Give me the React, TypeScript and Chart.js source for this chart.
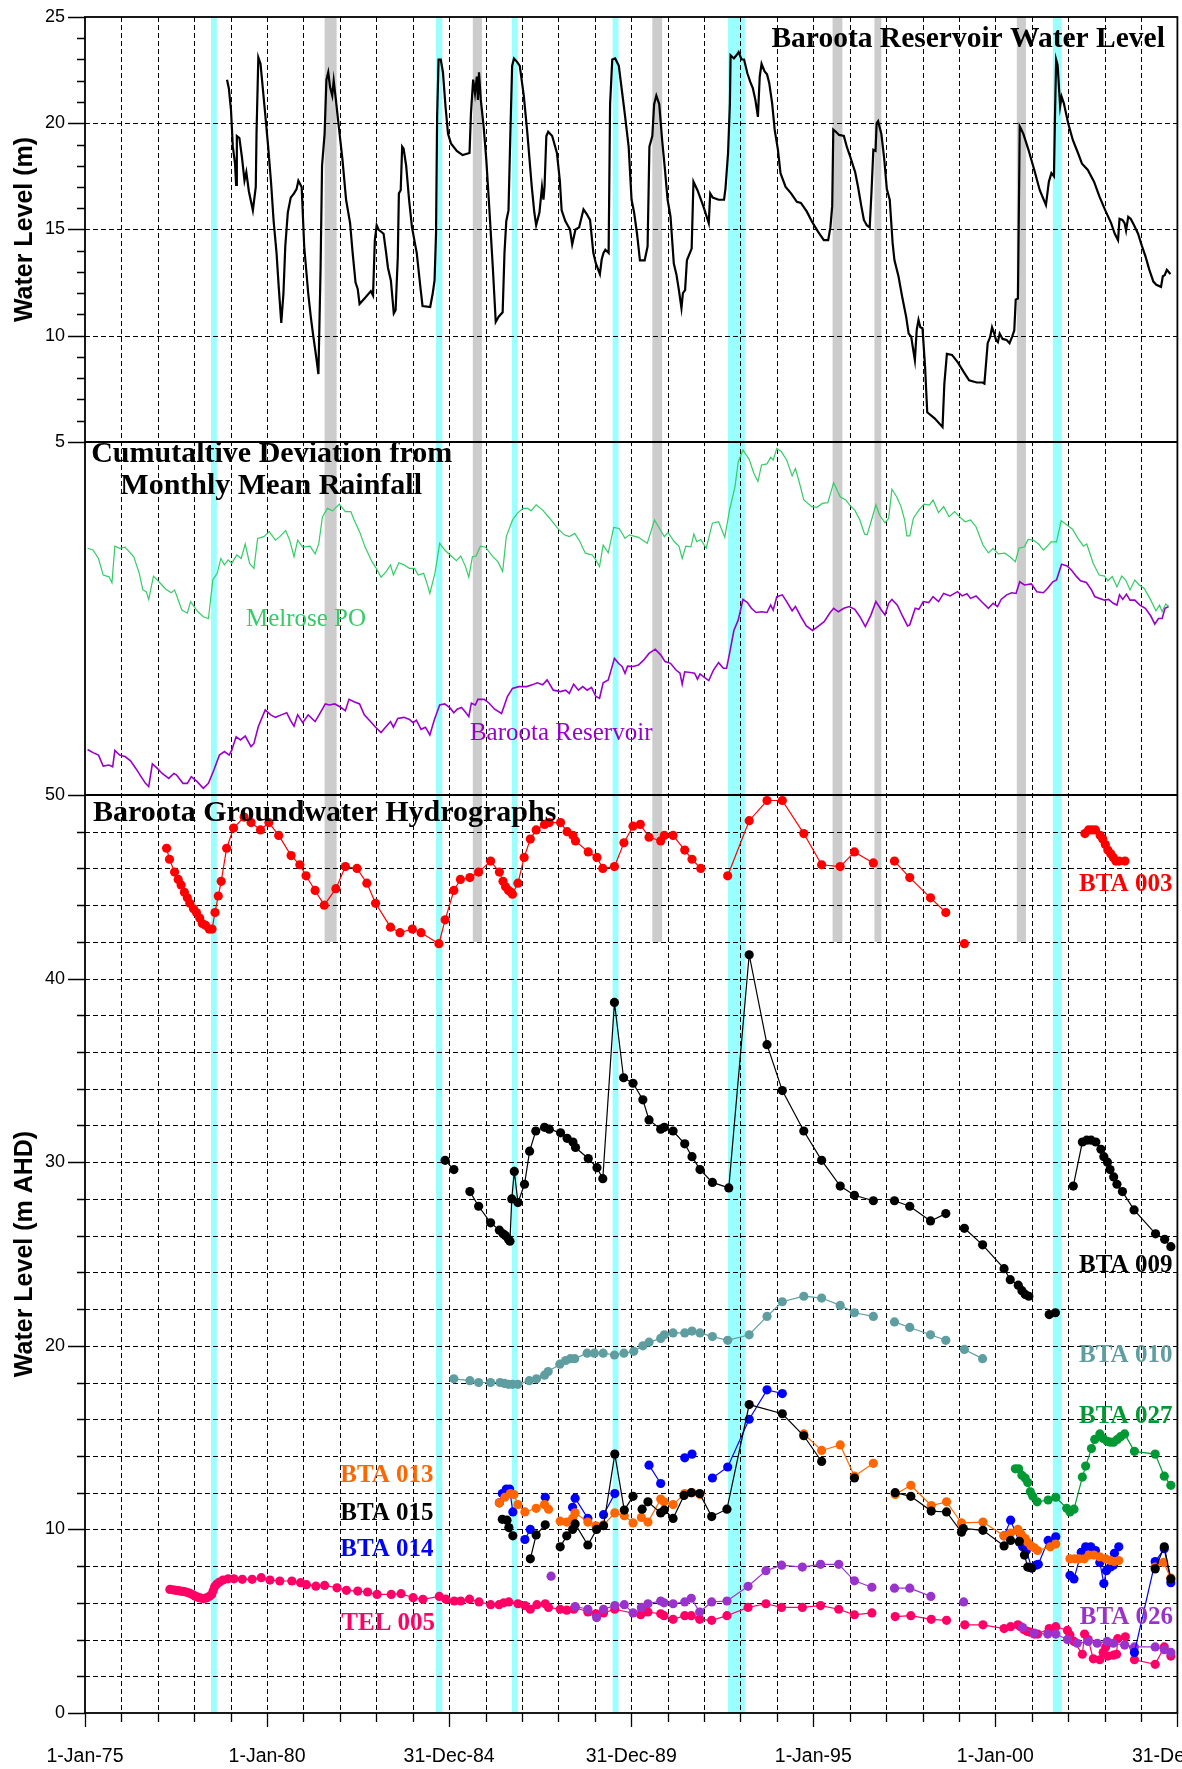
import React, { useEffect, useRef } from 'react';
import { Chart, registerables } from 'chart.js';

Chart.register(...registerables);

type P = [number, number | null];

// ---------- Data ----------
const X_TICK_YEARS = [1975, 1980, 1985, 1990, 1995, 2000, 2005];
const X_TICK_LABELS = ['1-Jan-75', '1-Jan-80', '31-Dec-84', '31-Dec-89', '1-Jan-95', '1-Jan-00', '31-Dec-04'];
const TOP_TICK_LABELS = [5, 10, 15, 20, 25];
const BOT_TICK_LABELS = [0, 10, 20, 30, 40, 50];

const CYAN_BANDS: [number, number][] = [
  [1978.46, 1978.62], [1984.64, 1984.81], [1986.72, 1986.88],
  [1989.49, 1989.65], [1992.66, 1993.12], [2001.58, 2001.82],
];
const GREY_BANDS: [number, number][] = [
  [1981.58, 1981.91], [1985.65, 1985.90], [1990.58, 1990.85],
  [1995.53, 1995.80], [1996.68, 1996.87], [2000.59, 2000.84],
];
const GREY_BAND_FLOOR = 42;

const RESERVOIR_LEVEL: P[] = [
  [1978.90,22.05],[1978.95,21.65],[1979.01,20.6],[1979.06,18.9],[1979.12,18.1],[1979.15,17.1],[1979.17,19.4],[1979.24,19.3],[1979.31,18.4],[1979.38,17.3],[1979.43,17.7],[1979.50,16.8],[1979.61,15.9],[1979.69,17.0],[1979.71,19.5],[1979.76,23.1],[1979.82,22.8],[1979.88,21.7],[1979.94,20.6],[1980.03,18.9],[1980.11,17.2],[1980.18,15.4],[1980.26,13.9],[1980.32,12.3],[1980.39,10.6],[1980.45,12.0],[1980.50,14.2],[1980.57,15.8],[1980.65,16.5],[1980.74,16.7],[1980.81,16.9],[1980.86,17.3],[1980.95,17.0],[1981.02,14.2],[1981.13,12.0],[1981.20,10.9],[1981.26,10.1],[1981.35,9.0],[1981.41,8.2],[1981.47,13.2],[1981.51,18.0],[1981.58,19.5],[1981.63,22.05],[1981.68,22.4],[1981.73,21.7],[1981.79,21.3],[1981.83,22.0],[1981.89,21.1],[1981.96,20.0],[1982.07,18.3],[1982.17,16.4],[1982.28,15.3],[1982.35,13.9],[1982.43,12.5],[1982.49,12.2],[1982.54,11.5],[1982.70,11.8],[1982.85,12.1],[1982.91,11.9],[1982.96,14.5],[1983.01,15.2],[1983.06,15.0],[1983.20,14.8],[1983.27,13.9],[1983.32,13.2],[1983.40,12.6],[1983.48,11.05],[1983.53,11.2],[1983.59,13.7],[1983.62,16.7],[1983.67,16.85],[1983.71,18.9],[1983.75,18.8],[1983.82,18.0],[1983.90,16.4],[1983.98,15.1],[1984.11,13.9],[1984.21,12.3],[1984.27,11.4],[1984.48,11.35],[1984.55,12.0],[1984.60,12.6],[1984.64,14.8],[1984.67,20.3],[1984.71,23.0],[1984.77,23.0],[1984.83,22.4],[1984.90,20.8],[1984.97,19.5],[1985.05,19.05],[1985.21,18.7],[1985.37,18.5],[1985.56,18.6],[1985.60,20.5],[1985.66,22.05],[1985.71,21.4],[1985.76,22.2],[1985.79,21.1],[1985.82,22.4],[1985.87,21.1],[1985.95,19.8],[1986.02,18.3],[1986.10,16.1],[1986.20,13.2],[1986.28,10.65],[1986.36,10.9],[1986.47,11.1],[1986.52,13.9],[1986.57,15.4],[1986.63,15.9],[1986.68,19.4],[1986.73,22.7],[1986.78,23.05],[1986.86,22.9],[1986.94,22.7],[1987.05,21.3],[1987.15,19.5],[1987.27,17.0],[1987.34,15.8],[1987.39,15.2],[1987.48,15.8],[1987.55,17.0],[1987.59,16.4],[1987.62,17.0],[1987.67,19.4],[1987.72,19.6],[1987.83,19.4],[1987.96,18.6],[1988.04,17.3],[1988.09,15.9],[1988.19,15.4],[1988.32,15.0],[1988.38,14.3],[1988.47,15.0],[1988.57,15.1],[1988.69,15.95],[1988.77,15.75],[1988.87,15.45],[1988.96,13.9],[1989.03,13.4],[1989.14,12.9],[1989.19,13.6],[1989.24,13.9],[1989.29,14.05],[1989.38,13.9],[1989.42,20.9],[1989.48,23.0],[1989.56,23.05],[1989.66,22.7],[1989.74,21.6],[1989.82,20.5],[1989.93,18.9],[1990.01,16.4],[1990.08,15.8],[1990.16,14.8],[1990.24,13.55],[1990.37,13.55],[1990.45,14.2],[1990.50,18.9],[1990.58,19.4],[1990.63,20.9],[1990.69,21.3],[1990.77,20.9],[1990.85,19.2],[1990.92,17.95],[1991.00,16.4],[1991.08,15.6],[1991.17,13.4],[1991.24,12.9],[1991.31,12.15],[1991.38,11.3],[1991.42,12.0],[1991.48,12.15],[1991.53,13.55],[1991.66,14.1],[1991.71,17.25],[1991.82,16.85],[1991.98,16.1],[1992.13,15.3],[1992.17,16.7],[1992.24,16.5],[1992.40,16.4],[1992.55,16.4],[1992.59,16.95],[1992.66,18.6],[1992.71,20.9],[1992.73,23.2],[1992.82,23.05],[1992.89,23.2],[1992.95,23.35],[1993.03,23.0],[1993.10,23.0],[1993.19,22.35],[1993.27,21.95],[1993.34,21.65],[1993.41,21.1],[1993.48,20.3],[1993.53,22.2],[1993.58,22.8],[1993.66,22.45],[1993.73,22.3],[1993.79,21.9],[1993.87,20.95],[1993.94,19.7],[1994.03,18.75],[1994.10,17.65],[1994.24,17.0],[1994.39,16.7],[1994.55,16.3],[1994.66,16.25],[1994.82,15.85],[1994.97,15.35],[1995.13,14.9],[1995.29,14.5],[1995.41,14.5],[1995.47,15.1],[1995.52,16.1],[1995.55,19.7],[1995.62,19.6],[1995.71,19.45],[1995.84,19.4],[1995.92,18.9],[1996.02,18.4],[1996.15,17.7],[1996.23,17.0],[1996.32,16.1],[1996.39,15.45],[1996.47,15.2],[1996.55,15.1],[1996.60,16.8],[1996.65,18.75],[1996.71,18.7],[1996.74,20.0],[1996.78,20.1],[1996.87,19.5],[1996.95,18.3],[1997.02,16.9],[1997.10,16.4],[1997.18,14.35],[1997.23,13.55],[1997.34,12.8],[1997.44,11.85],[1997.55,10.9],[1997.62,10.1],[1997.69,9.95],[1997.73,9.5],[1997.79,8.85],[1997.84,10.25],[1997.89,10.75],[1997.94,10.4],[1998.00,10.35],[1998.07,8.55],[1998.13,6.4],[1998.34,6.1],[1998.55,5.7],[1998.60,7.75],[1998.67,9.15],[1998.81,9.1],[1998.97,8.75],[1999.13,8.3],[1999.28,7.9],[1999.49,7.8],[1999.65,7.8],[1999.70,7.75],[1999.79,9.65],[1999.86,9.95],[1999.91,10.4],[1999.97,10.1],[2000.02,9.8],[2000.07,9.7],[2000.12,10.1],[2000.20,9.85],[2000.31,9.8],[2000.39,9.65],[2000.46,9.95],[2000.52,10.25],[2000.56,11.7],[2000.62,11.75],[2000.67,19.85],[2000.70,19.75],[2000.77,19.5],[2000.91,18.75],[2001.07,17.8],[2001.22,16.85],[2001.33,16.4],[2001.39,16.15],[2001.47,17.25],[2001.54,17.65],[2001.61,17.5],[2001.64,20.5],[2001.67,23.0],[2001.71,22.75],[2001.78,20.8],[2001.82,21.25],[2001.88,20.95],[2002.00,20.0],[2002.13,19.2],[2002.27,18.6],[2002.38,18.1],[2002.54,17.8],[2002.71,17.25],[2002.86,16.55],[2003.02,15.9],[2003.18,15.3],[2003.28,14.8],[2003.37,14.5],[2003.41,15.5],[2003.49,15.45],[2003.55,15.3],[2003.59,14.95],[2003.65,15.6],[2003.72,15.5],[2003.81,15.2],[2003.92,14.8],[2004.02,14.25],[2004.13,13.7],[2004.23,13.1],[2004.34,12.55],[2004.42,12.4],[2004.55,12.3],[2004.60,12.8],[2004.65,12.85],[2004.71,13.1],[2004.76,13.0],[2004.81,12.9],
];

// Cumulative deviation (relative units, 0-100 panel scale)
const MELROSE_PO: P[] = [
  [1975.07,69.9],[1975.22,69.4],[1975.37,67.0],[1975.50,62.3],[1975.66,61.8],[1975.74,60.1],[1975.82,70.5],[1975.95,69.9],[1976.10,70.2],[1976.34,67.5],[1976.49,62.8],[1976.59,58.1],[1976.68,57.6],[1976.75,55.4],[1976.88,62.0],[1977.03,60.4],[1977.22,58.3],[1977.37,57.3],[1977.46,58.1],[1977.66,52.4],[1977.81,51.5],[1977.90,54.8],[1978.10,51.9],[1978.25,50.5],[1978.39,50.0],[1978.51,60.9],[1978.63,62.8],[1978.73,67.0],[1978.83,65.2],[1978.93,66.6],[1979.03,65.6],[1979.17,68.0],[1979.29,67.0],[1979.40,71.1],[1979.52,65.6],[1979.64,64.2],[1979.74,72.7],[1979.91,73.2],[1980.06,74.6],[1980.23,72.2],[1980.35,73.2],[1980.51,74.9],[1980.62,72.2],[1980.74,67.5],[1980.84,72.2],[1980.98,70.2],[1981.18,70.5],[1981.32,68.3],[1981.42,71.2],[1981.52,78.8],[1981.66,81.2],[1981.80,80.5],[1981.98,82.4],[1982.15,80.3],[1982.30,80.3],[1982.39,77.9],[1982.54,74.6],[1982.69,70.3],[1982.88,66.1],[1983.00,64.2],[1983.13,61.7],[1983.27,63.3],[1983.39,65.2],[1983.47,62.3],[1983.62,65.8],[1983.76,65.2],[1983.91,64.2],[1984.05,64.2],[1984.15,62.3],[1984.30,62.8],[1984.39,60.0],[1984.47,57.1],[1984.61,62.8],[1984.74,71.3],[1984.88,69.4],[1985.08,67.5],[1985.20,66.4],[1985.32,67.7],[1985.45,64.7],[1985.54,61.7],[1985.64,67.5],[1985.74,67.7],[1985.86,70.5],[1986.00,70.2],[1986.20,67.5],[1986.34,66.1],[1986.47,63.3],[1986.57,73.2],[1986.74,77.9],[1986.87,79.8],[1987.03,81.2],[1987.16,81.2],[1987.25,80.5],[1987.39,82.2],[1987.57,80.7],[1987.76,78.4],[1988.00,75.3],[1988.16,73.7],[1988.30,73.2],[1988.45,74.1],[1988.59,71.8],[1988.74,68.5],[1988.93,68.0],[1989.03,66.6],[1989.13,64.7],[1989.23,70.8],[1989.37,68.6],[1989.52,75.8],[1989.67,75.5],[1989.83,72.7],[1989.95,73.7],[1990.20,73.0],[1990.44,71.3],[1990.64,77.9],[1990.79,75.3],[1990.91,73.2],[1991.01,74.4],[1991.18,71.8],[1991.31,70.5],[1991.40,67.0],[1991.50,70.5],[1991.64,70.3],[1991.72,73.9],[1991.80,71.8],[1991.91,72.4],[1992.06,69.9],[1992.23,77.0],[1992.40,77.4],[1992.57,73.0],[1992.70,80.7],[1992.85,87.3],[1992.94,94.4],[1993.07,97.7],[1993.24,95.1],[1993.37,91.1],[1993.48,88.8],[1993.58,93.5],[1993.73,93.8],[1993.83,95.7],[1993.90,94.9],[1994.00,98.2],[1994.12,97.3],[1994.27,94.9],[1994.42,90.4],[1994.51,92.5],[1994.61,88.8],[1994.74,83.6],[1994.96,81.7],[1995.10,81.5],[1995.25,82.6],[1995.40,82.8],[1995.56,88.5],[1995.74,84.5],[1995.89,83.6],[1996.02,81.9],[1996.14,80.7],[1996.28,77.9],[1996.41,73.9],[1996.48,73.7],[1996.60,77.9],[1996.72,82.2],[1996.82,79.3],[1996.97,77.1],[1997.07,78.4],[1997.16,86.6],[1997.29,84.5],[1997.41,81.7],[1997.51,77.9],[1997.57,73.4],[1997.65,73.4],[1997.75,78.4],[1997.90,80.7],[1998.04,82.4],[1998.19,82.1],[1998.29,83.6],[1998.44,80.0],[1998.58,81.7],[1998.73,78.8],[1998.88,80.3],[1999.03,78.7],[1999.17,77.4],[1999.32,77.9],[1999.47,76.0],[1999.66,70.8],[1999.81,68.6],[1999.94,69.9],[2000.08,68.3],[2000.26,68.5],[2000.40,67.5],[2000.55,66.1],[2000.65,69.9],[2000.80,70.3],[2000.90,72.4],[2001.04,72.2],[2001.19,71.1],[2001.32,69.4],[2001.43,70.5],[2001.53,71.7],[2001.68,71.7],[2001.81,77.7],[2001.97,76.5],[2002.12,75.3],[2002.27,72.7],[2002.42,70.5],[2002.51,71.1],[2002.69,65.6],[2002.85,62.3],[2003.00,62.0],[2003.09,60.7],[2003.21,61.9],[2003.34,59.0],[2003.47,62.0],[2003.58,60.9],[2003.70,58.1],[2003.83,60.9],[2003.95,59.5],[2004.09,58.5],[2004.27,55.2],[2004.41,52.2],[2004.51,53.8],[2004.58,51.9],[2004.68,54.1],[2004.76,53.4],
];

const BAROOTA_RESERVOIR_RAIN: P[] = [
  [1975.07,12.9],[1975.22,12.0],[1975.37,11.3],[1975.50,8.2],[1975.66,8.5],[1975.76,8.0],[1975.82,12.6],[1975.95,11.3],[1976.10,10.9],[1976.25,9.7],[1976.39,7.6],[1976.54,5.2],[1976.66,3.3],[1976.75,2.4],[1976.85,8.8],[1976.98,7.6],[1977.12,6.1],[1977.30,4.7],[1977.44,6.1],[1977.51,5.7],[1977.69,3.3],[1977.81,3.3],[1977.92,5.2],[1978.08,3.8],[1978.25,1.9],[1978.39,3.3],[1978.54,7.1],[1978.69,11.3],[1978.83,12.3],[1978.96,11.3],[1979.03,12.7],[1979.15,16.5],[1979.27,15.6],[1979.40,16.7],[1979.56,13.7],[1979.64,14.6],[1979.76,19.4],[1979.95,24.1],[1980.10,22.7],[1980.23,22.0],[1980.39,22.7],[1980.54,23.3],[1980.64,21.2],[1980.74,19.5],[1980.84,22.7],[1980.98,20.5],[1981.13,22.7],[1981.32,20.8],[1981.44,22.9],[1981.60,25.8],[1981.71,25.5],[1981.86,25.8],[1982.00,25.0],[1982.15,23.9],[1982.25,27.1],[1982.39,26.4],[1982.54,25.8],[1982.67,22.7],[1982.84,20.8],[1982.98,19.2],[1983.13,17.7],[1983.27,19.4],[1983.39,20.8],[1983.47,19.2],[1983.59,21.7],[1983.76,22.0],[1983.91,21.4],[1984.01,20.5],[1984.10,21.2],[1984.23,18.6],[1984.35,19.2],[1984.47,17.0],[1984.59,21.2],[1984.74,25.5],[1984.88,25.8],[1985.03,24.6],[1985.13,23.3],[1985.22,24.3],[1985.34,24.8],[1985.44,23.6],[1985.54,22.2],[1985.61,26.0],[1985.72,25.5],[1985.79,27.1],[1985.96,27.1],[1986.10,26.0],[1986.25,24.3],[1986.44,23.1],[1986.60,27.9],[1986.74,30.2],[1986.91,30.7],[1987.13,30.7],[1987.28,31.2],[1987.42,31.8],[1987.57,31.2],[1987.69,32.6],[1987.86,29.7],[1988.06,29.3],[1988.20,29.7],[1988.30,28.8],[1988.42,31.4],[1988.55,29.7],[1988.67,30.7],[1988.79,29.7],[1988.91,30.5],[1989.03,27.9],[1989.13,27.4],[1989.23,31.8],[1989.37,32.6],[1989.54,38.7],[1989.67,37.1],[1989.75,36.4],[1989.83,34.5],[1989.90,36.5],[1990.05,36.4],[1990.20,36.8],[1990.34,38.2],[1990.49,40.1],[1990.66,41.3],[1990.81,39.7],[1990.93,37.8],[1991.08,37.3],[1991.23,35.4],[1991.34,34.5],[1991.40,31.4],[1991.47,34.9],[1991.62,34.7],[1991.74,34.5],[1991.82,32.8],[1991.89,34.3],[1992.01,33.3],[1992.13,32.4],[1992.26,35.4],[1992.40,37.5],[1992.53,35.9],[1992.62,35.9],[1992.72,41.1],[1992.82,46.6],[1992.94,49.6],[1993.07,55.4],[1993.19,54.5],[1993.30,52.9],[1993.43,51.7],[1993.58,51.9],[1993.73,51.7],[1993.83,53.8],[1993.90,52.4],[1994.00,56.2],[1994.15,56.7],[1994.27,54.8],[1994.42,52.2],[1994.51,53.4],[1994.66,50.5],[1994.81,47.9],[1994.98,46.6],[1995.15,47.9],[1995.30,49.1],[1995.45,51.5],[1995.56,52.9],[1995.69,51.9],[1995.84,52.9],[1995.99,53.4],[1996.14,52.6],[1996.28,50.5],[1996.43,47.7],[1996.58,50.9],[1996.72,54.8],[1996.87,52.4],[1996.97,51.0],[1997.07,54.3],[1997.16,55.4],[1997.31,53.8],[1997.46,50.5],[1997.59,47.9],[1997.65,48.2],[1997.80,52.9],[1997.90,52.6],[1998.02,54.8],[1998.17,54.5],[1998.29,56.2],[1998.44,54.8],[1998.58,57.1],[1998.76,56.4],[1998.96,57.6],[1999.09,56.4],[1999.22,57.0],[1999.32,55.7],[1999.47,56.4],[1999.62,54.8],[1999.81,52.9],[1999.94,54.3],[2000.06,53.4],[2000.16,55.4],[2000.31,56.7],[2000.45,57.3],[2000.57,57.1],[2000.67,60.4],[2000.80,59.5],[2000.99,59.8],[2001.14,57.6],[2001.32,57.3],[2001.43,58.5],[2001.58,60.4],[2001.68,60.9],[2001.82,65.4],[2001.97,64.9],[2002.10,63.6],[2002.22,62.0],[2002.34,60.7],[2002.50,60.2],[2002.64,58.1],[2002.73,56.2],[2002.86,55.7],[2003.00,55.2],[2003.11,55.4],[2003.24,54.3],[2003.34,53.8],[2003.41,56.7],[2003.50,55.4],[2003.60,56.9],[2003.70,55.2],[2003.83,55.2],[2003.97,53.8],[2004.12,52.9],[2004.27,50.7],[2004.38,48.4],[2004.48,50.0],[2004.58,50.0],[2004.66,52.9],[2004.76,53.4],
];

// Groundwater hydrographs (m AHD); null marks a gap in the record
const BTA_003: P[] = [
  [1977.24,47.1],[1977.32,46.5],[1977.46,45.8],[1977.56,45.4],[1977.64,45.1],[1977.73,44.7],[1977.81,44.4],[1977.88,44.1],[1977.98,43.8],[1978.06,43.6],[1978.15,43.3],[1978.22,43.0],[1978.31,42.9],[1978.41,42.7],[1978.49,42.7],[1978.57,43.6],[1978.66,44.5],[1978.74,45.3],[1978.89,47.1],[1979.08,48.2],[1979.37,48.8],[1979.56,48.5],[1979.82,48.1],[1980.05,48.5],[1980.32,47.8],[1980.66,46.7],[1980.90,46.2],[1981.07,45.6],[1981.32,44.8],[1981.57,44.0],[1981.89,44.9],[1982.15,46.1],[1982.47,46.0],[1982.74,45.2],[1982.98,44.1],[1983.39,42.8],[1983.65,42.5],[1983.99,42.7],[1984.23,42.5],[1984.72,41.9],[1984.89,43.2],[1985.13,44.8],[1985.31,45.4],[1985.57,45.5],[1985.81,45.8],[1986.14,46.4],[1986.38,45.8],[1986.48,45.3],[1986.55,45.0],[1986.63,44.8],[1986.70,44.7],[1986.74,44.6],[1986.89,45.2],[1987.06,46.6],[1987.23,47.6],[1987.39,48.1],[1987.62,48.4],[1987.75,48.5],[1988.06,48.5],[1988.24,48.0],[1988.40,47.8],[1988.47,47.5],[1988.82,46.9],[1989.06,46.6],[1989.22,46.0],[1989.54,46.1],[1989.80,47.4],[1990.05,48.3],[1990.25,48.4],[1990.49,47.7],[1990.81,47.5],[1990.91,47.8],[1991.15,47.8],[1991.47,47.0],[1991.67,46.5],[1991.91,46.0],[1992.30,null],[1992.65,45.6],[1993.24,48.6],[1993.73,49.7],[1994.15,49.7],[1994.74,47.9],[1995.23,46.2],[1995.74,46.1],[1996.13,46.9],[1996.65,46.3],[1996.90,null],[1997.23,46.4],[1997.65,45.5],[1998.22,44.4],[1998.64,43.6],[1998.90,null],[1999.15,41.9],[2000.00,null],[2002.46,47.9],[2002.56,48.1],[2002.65,48.1],[2002.75,48.1],[2002.88,47.8],[2002.95,47.6],[2003.02,47.3],[2003.09,47.0],[2003.17,46.8],[2003.24,46.6],[2003.31,46.4],[2003.40,46.4],[2003.56,46.4],
];
const BTA_009: P[] = [
  [1984.89,30.1],[1985.13,29.6],[1985.35,null],[1985.57,28.4],[1985.81,27.6],[1986.14,26.7],[1986.38,26.3],[1986.48,26.1],[1986.55,26.0],[1986.63,25.8],[1986.67,25.7],[1986.72,28.0],[1986.79,29.5],[1986.89,27.8],[1987.07,28.8],[1987.21,30.6],[1987.38,31.7],[1987.62,31.9],[1987.75,31.8],[1988.06,31.6],[1988.24,31.3],[1988.40,31.1],[1988.47,30.8],[1988.82,30.2],[1989.06,29.7],[1989.22,29.1],[1989.54,38.7],[1989.79,34.6],[1990.05,34.3],[1990.32,33.4],[1990.49,32.3],[1990.81,31.8],[1990.91,31.9],[1991.15,31.7],[1991.47,31.0],[1991.67,30.3],[1991.89,29.6],[1992.23,28.9],[1992.68,28.6],[1993.24,41.3],[1993.73,36.4],[1994.15,33.9],[1994.74,31.7],[1995.23,30.1],[1995.74,28.7],[1996.13,28.2],[1996.65,27.9],[1996.90,null],[1997.23,27.9],[1997.65,27.6],[1998.22,26.8],[1998.64,27.2],[1998.90,null],[1999.15,26.4],[1999.65,25.5],[2000.24,24.2],[2000.41,23.6],[2000.63,23.3],[2000.73,23.0],[2000.82,22.8],[2000.92,22.7],[2001.20,null],[2001.48,21.7],[2001.65,21.8],[2001.90,null],[2002.14,28.7],[2002.39,31.1],[2002.51,31.2],[2002.63,31.2],[2002.76,31.1],[2002.90,30.7],[2002.98,30.3],[2003.08,30.0],[2003.15,29.6],[2003.25,29.2],[2003.34,28.8],[2003.49,28.4],[2003.81,27.4],[2004.40,26.1],[2004.65,25.8],[2004.82,25.4],
];
const BTA_010: P[] = [
  [1985.13,18.2],[1985.57,18.1],[1985.81,18.0],[1986.14,18.0],[1986.40,18.0],[1986.52,17.95],[1986.63,17.9],[1986.74,17.9],[1986.89,17.9],[1987.20,18.1],[1987.40,18.2],[1987.62,18.4],[1987.72,18.6],[1988.04,19.0],[1988.20,19.2],[1988.33,19.3],[1988.45,19.3],[1988.79,19.6],[1988.99,19.6],[1989.23,19.6],[1989.54,19.5],[1989.80,19.6],[1990.07,19.7],[1990.32,20.0],[1990.49,20.2],[1990.81,20.4],[1990.91,20.6],[1991.15,20.7],[1991.47,20.7],[1991.67,20.8],[1991.89,20.7],[1992.23,20.5],[1992.65,20.3],[1993.24,20.6],[1993.73,21.6],[1994.15,22.4],[1994.74,22.7],[1995.23,22.6],[1995.74,22.2],[1996.13,21.8],[1996.65,21.6],[1996.90,null],[1997.23,21.3],[1997.65,21.0],[1998.22,20.6],[1998.64,20.3],[1998.90,null],[1999.15,19.8],[1999.65,19.3],
];
const BTA_013: P[] = [
  [1986.38,11.45],[1986.53,11.75],[1986.68,11.95],[1986.78,11.9],[1986.89,11.35],[1987.08,10.95],[1987.39,11.15],[1987.62,11.35],[1987.73,11.1],[1987.90,null],[1988.05,10.45],[1988.23,10.4],[1988.39,10.6],[1988.46,10.9],[1988.81,10.4],[1989.03,10.2],[1989.24,10.25],[1989.55,10.9],[1989.81,10.75],[1990.05,10.35],[1990.20,null],[1990.28,10.65],[1990.46,10.4],[1990.81,11.65],[1990.90,11.5],[1991.15,11.35],[1991.47,11.95],[1991.67,12.0],[1991.89,11.9],[1992.20,null],[1994.74,15.2],[1995.23,14.3],[1995.74,14.6],[1996.13,12.9],[1996.65,13.6],[1996.90,null],[1997.25,11.9],[1997.68,12.4],[1998.24,11.3],[1998.66,11.5],[1999.07,10.35],[1999.66,10.4],[2000.24,9.65],[2000.42,9.8],[2000.62,10.0],[2000.69,9.8],[2000.75,9.6],[2000.82,9.5],[2000.89,9.3],[2000.98,9.1],[2001.07,9.0],[2001.16,8.85],[2001.51,9.05],[2001.66,9.2],[2001.85,null],[2002.05,8.4],[2002.18,8.4],[2002.30,8.4],[2002.44,8.4],[2002.57,8.6],[2002.71,8.6],[2002.87,8.5],[2003.03,8.4],[2003.16,8.3],[2003.27,8.25],[2003.39,8.3],[2003.80,null],[2004.39,7.95],[2004.62,8.2],[2004.82,7.35],
];
const BTA_015: P[] = [
  [1986.46,10.55],[1986.59,10.5],[1986.64,10.1],[1986.75,9.65],[1986.95,null],[1987.23,8.4],[1987.39,9.7],[1987.64,10.25],[1987.85,null],[1988.05,9.05],[1988.23,9.65],[1988.39,10.0],[1988.46,10.3],[1988.81,9.15],[1989.05,10.0],[1989.24,10.2],[1989.55,14.1],[1989.81,11.05],[1990.05,11.8],[1990.20,null],[1990.30,11.1],[1990.46,11.5],[1990.81,10.9],[1990.91,11.05],[1991.15,10.6],[1991.45,11.85],[1991.65,12.0],[1991.88,11.95],[1992.21,10.7],[1992.63,11.1],[1993.24,16.8],[1994.15,16.3],[1994.74,15.1],[1995.23,13.7],[1995.50,null],[1996.13,12.8],[1996.60,null],[1997.25,12.0],[1997.68,11.8],[1998.24,11.0],[1998.66,10.95],[1999.07,9.85],[1999.12,10.05],[1999.66,9.95],[2000.24,9.1],[2000.42,9.4],[2000.66,9.35],[2000.80,8.6],[2000.89,7.95],[2001.00,7.9],[2001.30,null],[2004.39,7.85],[2004.64,9.05],[2004.82,7.3],
];
const BTA_014: P[] = [
  [1986.38,11.45],[1986.46,11.95],[1986.57,12.2],[1986.66,12.2],[1986.75,10.95],[1986.95,null],[1987.08,9.45],[1987.23,10.0],[1987.45,null],[1987.64,11.75],[1987.90,null],[1988.39,11.2],[1988.46,11.7],[1988.81,10.6],[1989.00,null],[1989.24,10.8],[1989.55,11.95],[1989.90,null],[1990.49,13.5],[1990.81,12.5],[1991.20,null],[1991.47,13.9],[1991.67,14.1],[1991.90,null],[1992.23,12.8],[1992.65,13.4],[1993.24,16.0],[1993.73,17.6],[1994.15,17.4],[1995.00,null],[2000.24,9.65],[2000.42,10.5],[2000.66,9.3],[2000.75,9.05],[2000.85,8.85],[2001.00,7.9],[2001.12,8.05],[2001.18,8.1],[2001.45,9.4],[2001.66,9.6],[2001.85,null],[2002.05,7.5],[2002.16,7.3],[2002.36,8.75],[2002.48,9.05],[2002.62,9.05],[2002.75,8.85],[2002.87,8.2],[2002.98,7.05],[2003.05,7.75],[2003.16,7.95],[2003.24,8.05],[2003.27,8.7],[2003.39,9.05],[2003.60,null],[2003.82,3.3],[2004.39,8.25],[2004.64,8.95],[2004.82,7.1],
];
const BTA_027: P[] = [
  [2000.55,13.3],[2000.64,13.3],[2000.73,12.95],[2000.82,12.8],[2000.89,12.55],[2000.96,12.05],[2001.03,11.8],[2001.15,11.5],[2001.45,11.6],[2001.66,11.75],[2001.96,11.15],[2002.05,10.95],[2002.16,11.1],[2002.39,12.85],[2002.48,13.45],[2002.64,14.4],[2002.73,14.9],[2002.87,15.2],[2002.96,14.95],[2003.07,14.8],[2003.16,14.75],[2003.25,14.75],[2003.35,14.9],[2003.44,15.05],[2003.55,15.2],[2003.82,14.25],[2004.39,14.1],[2004.64,12.9],[2004.82,12.4],
];
const BTA_026: P[] = [
  [1987.80,7.45],[1988.10,null],[1988.46,5.8],[1988.81,5.65],[1989.05,5.2],[1989.24,5.65],[1989.55,5.85],[1989.81,5.9],[1990.05,5.45],[1990.28,5.75],[1990.46,5.95],[1990.81,6.1],[1990.90,6.0],[1991.15,5.95],[1991.47,6.05],[1991.65,6.25],[1991.88,5.5],[1992.21,6.05],[1992.63,6.1],[1993.21,6.9],[1993.70,7.75],[1994.13,8.05],[1994.70,7.95],[1995.20,8.1],[1995.70,8.1],[1996.13,7.2],[1996.61,6.85],[1996.90,null],[1997.23,6.8],[1997.65,6.8],[1998.23,6.35],[1998.70,null],[1999.13,6.05],[1999.50,null],[2000.75,4.65],[2001.07,4.35],[2001.44,4.3],[2001.66,4.3],[2001.98,4.0],[2002.25,3.8],[2002.55,3.9],[2002.80,3.8],[2003.07,3.9],[2003.24,3.8],[2003.55,3.7],[2003.82,3.6],[2004.39,3.6],[2004.64,3.45],[2004.82,3.3],
];
const TEL_005: P[] = [
  [1977.33,6.73],[1977.42,6.71],[1977.49,6.68],[1977.56,6.66],[1977.62,6.64],[1977.69,6.62],[1977.75,6.6],[1977.82,6.56],[1977.88,6.52],[1977.95,6.45],[1978.02,6.37],[1978.08,6.32],[1978.14,6.28],[1978.20,6.25],[1978.25,6.23],[1978.30,6.25],[1978.35,6.28],[1978.42,6.36],[1978.48,6.46],[1978.52,6.66],[1978.56,6.88],[1978.62,7.02],[1978.69,7.13],[1978.79,7.24],[1978.93,7.31],[1979.09,7.31],[1979.32,7.28],[1979.59,7.28],[1979.84,7.37],[1980.08,7.24],[1980.35,7.19],[1980.68,7.19],[1980.92,7.1],[1981.08,6.99],[1981.34,6.91],[1981.58,6.95],[1981.92,6.82],[1982.18,6.68],[1982.49,6.64],[1982.76,6.59],[1983.02,6.46],[1983.41,6.46],[1983.68,6.5],[1984.01,6.28],[1984.28,6.19],[1984.73,6.35],[1984.91,6.2],[1985.14,6.1],[1985.32,6.1],[1985.56,6.2],[1985.82,6.05],[1986.14,5.9],[1986.37,5.9],[1986.50,6.0],[1986.64,6.05],[1986.89,5.95],[1987.08,5.85],[1987.23,5.65],[1987.41,5.9],[1987.64,5.95],[1987.73,5.75],[1988.05,5.65],[1988.23,5.6],[1988.42,5.65],[1988.46,5.75],[1988.81,5.5],[1989.03,5.4],[1989.24,5.45],[1989.55,5.65],[1990.26,5.35],[1990.46,5.5],[1990.81,5.4],[1990.90,5.3],[1991.15,5.1],[1991.47,5.3],[1991.65,5.3],[1991.88,5.1],[1992.21,5.05],[1992.63,5.3],[1993.21,5.75],[1993.70,5.95],[1994.13,5.75],[1994.70,5.75],[1995.20,5.85],[1995.70,5.65],[1996.13,5.35],[1996.61,5.45],[1996.90,null],[1997.25,5.25],[1997.68,5.3],[1998.24,5.1],[1998.66,5.05],[1998.90,null],[1999.16,4.8],[1999.66,4.8],[2000.24,4.6],[2000.42,4.7],[2000.62,4.8],[2000.69,4.7],[2000.78,4.55],[2000.87,4.45],[2000.96,4.4],[2001.07,4.3],[2001.16,4.3],[2001.48,4.6],[2001.66,4.7],[2001.98,4.5],[2002.05,4.25],[2002.16,3.9],[2002.39,3.2],[2002.45,4.3],[2002.55,4.0],[2002.69,2.95],[2002.87,2.9],[2002.96,3.3],[2003.03,3.6],[2003.09,3.1],[2003.24,3.15],[2003.33,3.2],[2003.36,4.05],[2003.57,4.15],[2003.82,2.9],[2004.39,2.65],[2004.64,3.6],[2004.82,3.1],
];

// ---------- Text annotations (data coordinates) ----------
const SERIF = '"Liberation Serif", "Times New Roman", serif';
const SANS = '"Liberation Sans", Arial, sans-serif';
const TEXTS = [
  { text: 'Baroota Reservoir Water Level', axis: 'yTop', x: 1993.85, y: 23.97, color: '#000', font: `bold 29.5px ${SERIF}` },
  { text: 'Cumutaltive Deviation from', axis: 'yMid', x: 1975.17, y: 96.6, color: '#000', font: `bold 30px ${SERIF}` },
  { text: 'Monthly Mean Rainfall', axis: 'yMid', x: 1975.97, y: 87.4, color: '#000', font: `bold 30px ${SERIF}` },
  { text: 'Melrose PO', axis: 'yMid', x: 1979.42, y: 49.6, color: '#33cc66', font: `25px ${SERIF}` },
  { text: 'Baroota Reservoir', axis: 'yMid', x: 1985.57, y: 17.3, color: '#9900cc', font: `25px ${SERIF}` },
  { text: 'Baroota Groundwater Hydrographs', axis: 'yBot', x: 1975.22, y: 49.0, color: '#000', font: `bold 30px ${SERIF}` },
  { text: 'BTA 003', axis: 'yBot', x: 2002.30, y: 45.1, color: '#ff0000', font: `bold 25px ${SERIF}` },
  { text: 'BTA 009', axis: 'yBot', x: 2002.30, y: 24.35, color: '#000000', font: `bold 25px ${SERIF}` },
  { text: 'BTA 010', axis: 'yBot', x: 2002.30, y: 19.48, color: '#5f9ea0', font: `bold 25px ${SERIF}` },
  { text: 'BTA 027', axis: 'yBot', x: 2002.30, y: 16.16, color: '#009933', font: `bold 25px ${SERIF}` },
  { text: 'BTA 026', axis: 'yBot', x: 2002.32, y: 5.22, color: '#9933cc', font: `bold 25px ${SERIF}` },
  { text: 'BTA 013', axis: 'yBot', x: 1982.01, y: 12.93, color: '#ff6600', font: `bold 25px ${SERIF}` },
  { text: 'BTA 015', axis: 'yBot', x: 1982.01, y: 10.88, color: '#000000', font: `bold 25px ${SERIF}` },
  { text: 'BTA 014', axis: 'yBot', x: 1982.01, y: 8.88, color: '#0000ff', font: `bold 25px ${SERIF}` },
  { text: 'TEL 005', axis: 'yBot', x: 1982.04, y: 4.89, color: '#ff0066', font: `bold 25px ${SERIF}` },
];

const W = 1182;
const H = 1769;

const xy = (arr: P[]) => arr.map(([x, y]) => ({ x, y }));

const decorPlugin = {
  id: 'panelDecor',
  beforeDatasetsDraw(chart: any) {
    const { ctx, chartArea: ca } = chart;
    const xs = chart.scales.x, yT = chart.scales.yTop, yB = chart.scales.yBot;
    ctx.save();
    ctx.fillStyle = '#99ffff';
    for (const [a, b] of CYAN_BANDS) {
      const x1 = xs.getPixelForValue(a), x2 = xs.getPixelForValue(b);
      ctx.fillRect(x1, ca.top, x2 - x1, ca.bottom - ca.top);
    }
    ctx.fillStyle = '#cccccc';
    const gb = yB.getPixelForValue(GREY_BAND_FLOOR);
    for (const [a, b] of GREY_BANDS) {
      const x1 = xs.getPixelForValue(a), x2 = xs.getPixelForValue(b);
      ctx.fillRect(x1, ca.top, x2 - x1, gb - ca.top);
    }
    ctx.strokeStyle = '#000';
    ctx.lineWidth = 1;
    ctx.setLineDash([5, 3]);
    ctx.beginPath();
    for (let yr = 1976; yr < 2005; yr++) {
      const px = Math.round(xs.getPixelForValue(yr)) + 0.5;
      ctx.moveTo(px, ca.top);
      ctx.lineTo(px, ca.bottom);
    }
    for (const v of [10, 15, 20]) {
      const py = Math.round(yT.getPixelForValue(v)) + 0.5;
      ctx.moveTo(ca.left, py);
      ctx.lineTo(ca.right, py);
    }
    for (let v = 2; v < 50; v += 2) {
      const py = Math.round(yB.getPixelForValue(v)) + 0.5;
      ctx.moveTo(ca.left, py);
      ctx.lineTo(ca.right, py);
    }
    ctx.stroke();
    ctx.restore();
  },
  afterDatasetsDraw(chart: any) {
    const { ctx, chartArea: ca } = chart;
    const xs = chart.scales.x, yT = chart.scales.yTop, yM = chart.scales.yMid, yB = chart.scales.yBot;
    ctx.save();
    ctx.setLineDash([]);
    ctx.strokeStyle = '#000';
    ctx.lineWidth = 1.8;
    ctx.strokeRect(ca.left, ca.top, ca.right - ca.left, ca.bottom - ca.top);
    ctx.beginPath();
    ctx.moveTo(ca.left, yT.bottom); ctx.lineTo(ca.right, yT.bottom);
    ctx.moveTo(ca.left, yM.bottom); ctx.lineTo(ca.right, yM.bottom);
    ctx.stroke();
    ctx.lineWidth = 1.3;
    ctx.beginPath();
    for (let v = 5; v <= 25; v++) {
      const py = Math.round(yT.getPixelForValue(v)) + 0.5;
      const len = v % 5 === 0 ? 17 : 8;
      ctx.moveTo(ca.left - len, py); ctx.lineTo(ca.left, py);
    }
    for (let v = 0; v <= 50; v += 2) {
      const py = Math.round(yB.getPixelForValue(v)) + 0.5;
      const len = v % 10 === 0 ? 17 : 8;
      ctx.moveTo(ca.left - len, py); ctx.lineTo(ca.left, py);
    }
    for (let yr = 1975; yr <= 2005; yr++) {
      const px = Math.round(xs.getPixelForValue(yr)) + 0.5;
      const len = (yr - 1975) % 5 === 0 ? 14 : 9;
      ctx.moveTo(px, ca.bottom); ctx.lineTo(px, ca.bottom + len);
    }
    ctx.stroke();
    ctx.fillStyle = '#000';
    ctx.font = `18px ${SANS}`;
    ctx.textAlign = 'right';
    ctx.textBaseline = 'middle';
    for (const v of TOP_TICK_LABELS) ctx.fillText(String(v), ca.left - 20, yT.getPixelForValue(v));
    for (const v of BOT_TICK_LABELS) ctx.fillText(String(v), ca.left - 20, yB.getPixelForValue(v));
    ctx.font = `19.5px ${SANS}`;
    ctx.textAlign = 'center';
    X_TICK_YEARS.forEach((yr, i) => ctx.fillText(X_TICK_LABELS[i], xs.getPixelForValue(yr), ca.bottom + 44));
    ctx.font = `bold 25px ${SANS}`;
    const title = (t: string, cy: number) => {
      ctx.save();
      ctx.translate(25, cy);
      ctx.rotate(-Math.PI / 2);
      ctx.textAlign = 'center';
      ctx.textBaseline = 'middle';
      ctx.fillText(t, 0, 0);
      ctx.restore();
    };
    title('Water Level (m)', (yT.top + yT.bottom) / 2);
    title('Water Level (m AHD)', (yB.top + yB.bottom) / 2);
    ctx.textAlign = 'left';
    ctx.textBaseline = 'middle';
    for (const t of TEXTS) {
      ctx.font = t.font;
      ctx.fillStyle = t.color;
      ctx.fillText(t.text, xs.getPixelForValue(t.x), chart.scales[t.axis].getPixelForValue(t.y));
    }
    ctx.restore();
  },
};

const lineDs = (label: string, data: P[], color: string, width: number, axis: string) => ({
  label, data: xy(data), yAxisID: axis, borderColor: color, backgroundColor: color,
  borderWidth: width, pointRadius: 0, pointHoverRadius: 0, pointHitRadius: 0, tension: 0, spanGaps: false,
});
const wellDs = (label: string, data: P[], color: string) => ({
  label, data: xy(data), yAxisID: 'yBot', borderColor: color, backgroundColor: color,
  borderWidth: 1.2, pointRadius: 4.6, pointBorderWidth: 0, pointHoverRadius: 4.6, pointBackgroundColor: color,
  tension: 0, spanGaps: false, clip: false,
});

export default function App() {
  const ref = useRef<HTMLCanvasElement>(null);
  useEffect(() => {
    if (!ref.current) return;
    const hidden = {
      grid: { display: false }, border: { display: false }, ticks: { display: false },
    };
    const chart = new Chart(ref.current, {
      type: 'line',
      data: {
        datasets: [
          lineDs('Reservoir level', RESERVOIR_LEVEL, '#000000', 2.2, 'yTop'),
          lineDs('Melrose PO', MELROSE_PO, '#33cc66', 1.2, 'yMid'),
          lineDs('Baroota Reservoir', BAROOTA_RESERVOIR_RAIN, '#9900cc', 1.6, 'yMid'),
          wellDs('BTA 003', BTA_003, '#ff0000'),
          wellDs('BTA 009', BTA_009, '#000000'),
          wellDs('BTA 010', BTA_010, '#5f9ea0'),
          wellDs('BTA 015', BTA_015, '#000000'),
          wellDs('BTA 013', BTA_013, '#ff6600'),
          wellDs('BTA 014', BTA_014, '#0000ff'),
          wellDs('BTA 027', BTA_027, '#009933'),
          wellDs('BTA 026', BTA_026, '#9933cc'),
          wellDs('TEL 005', TEL_005, '#ff0066'),
        ] as any,
      },
      options: {
        responsive: false,
        animation: false,
        devicePixelRatio: 1,
        events: [],
        layout: { padding: { left: 85, right: 1, top: 17, bottom: 56 } },
        plugins: { legend: { display: false }, tooltip: { enabled: false }, title: { display: false } },
        scales: {
          x: { type: 'linear', position: 'bottom', min: 1975, max: 2005, ...hidden, afterFit: (s: any) => { s.height = 0; } },
          yTop: { type: 'linear', position: 'left', stack: 'panels', stackWeight: 425, weight: 3, min: 5, max: 25, ...hidden, afterFit: (s: any) => { s.width = 0; } },
          yMid: { type: 'linear', position: 'left', stack: 'panels', stackWeight: 353, weight: 2, min: 0, max: 100, ...hidden, afterFit: (s: any) => { s.width = 0; } },
          yBot: { type: 'linear', position: 'left', stack: 'panels', stackWeight: 918, weight: 1, min: 0, max: 50, ...hidden, afterFit: (s: any) => { s.width = 0; } },
        } as any,
      },
      plugins: [decorPlugin],
    });
    return () => chart.destroy();
  }, []);
  return (
    <div style={{ position: 'absolute', left: 0, top: 0, width: W, height: H, background: '#ffffff' }}>
      <canvas ref={ref} width={W} height={H} style={{ width: W, height: H, display: 'block' }} />
    </div>
  );
}
